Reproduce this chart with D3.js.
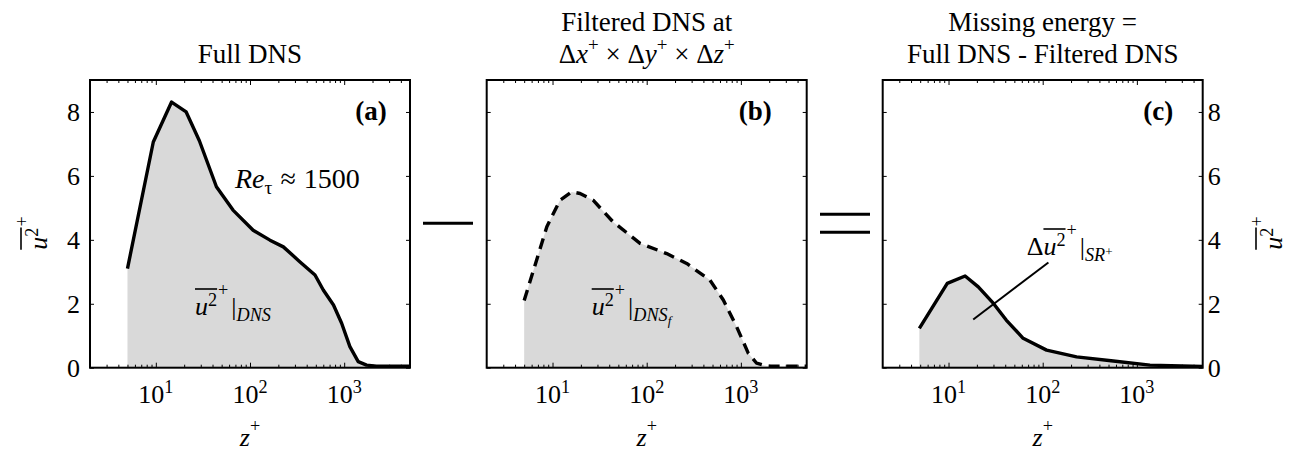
<!DOCTYPE html>
<html>
<head>
<meta charset="utf-8">
<script src="https://cdn.jsdelivr.net/npm/d3@7"></script>
<style>
  body { margin: 0; background: #fff; }
  svg text { font-family: "Liberation Serif", "Times New Roman", Times, "DejaVu Serif", "Noto Serif", serif; fill: #000; }
</style>
</head>
<body>
<svg id="chart" width="1291" height="452"></svg>
<script>
// values: z+ and mean square u+ profiles
var zFull = [5, 9.4, 14.7, 21, 29, 44, 66, 108, 163, 226, 340, 490, 600, 770, 940, 1150, 1410, 1730, 2200, 5000];
var uFull = [3.1, 7.06, 8.31, 8.0, 7.1, 5.66, 4.93, 4.3, 3.99, 3.78, 3.31, 2.9, 2.43, 1.96, 1.39, 0.66, 0.19, 0.08, 0.05, 0.05];

var zFilt = [5, 8.7, 12, 16, 19.6, 27, 44, 85, 163, 266, 469, 651, 902, 1200, 1470, 1870, 5000];
var uFilt = [2.1, 4.41, 5.24, 5.5, 5.45, 5.24, 4.56, 3.89, 3.57, 3.26, 2.74, 2.12, 1.28, 0.45, 0.14, 0.05, 0.05];

var zMiss = [4.9, 9.7, 15, 20.7, 30, 41, 62, 110, 229, 562, 1377, 5000];
var uMiss = [1.23, 2.64, 2.87, 2.53, 2.01, 1.49, 0.92, 0.55, 0.34, 0.21, 0.08, 0.04];

// pointer line for the label in (c)
var leaderZ = [18.3, 115];
var leaderU = [1.51, 3.29];

var zDomain = [2, 5000];
var uDomain = [0, 9];
var yTicks = [0, 2, 4, 6, 8];
var decades = [10, 100, 1000];
var decadeLabels = ['1', '2', '3'];

var svg = d3.select('#chart');
var plotW = 320,
  plotTop = 80,
  plotH = 287.7,
  fs = 26,
  grey = '#d9d9d9';

var x = d3.scaleLog().domain(zDomain).range([0, plotW]);
var y = d3.scaleLinear().domain(uDomain).range([plotH, 0]);

var minorTicks = [];
[1, 10, 100, 1000].forEach(function(p){
  for (var d = 2; d <= 9; d++) {
    var v = d * p;
    if (v > zDomain[0] && v < zDomain[1]) minorTicks.push(v);
  }
});

// draws a row of text pieces (italic, super/subscripts, overline) and returns the group
function rich(g, pieces, size, anchor){
  var grp = g.append('g');
  var pos = 0, oMin = null, oMax = null;
  pieces.forEach(function(p){
    var s = p.size ? p.size * size : ((p.sup || p.sub) ? size * 0.7 : size);
    var dy = p.sup ? -(p.rise || 0.38) * size : (p.sub ? (p.drop || 0.22) * size : 0);
    var t = grp.append('text')
      .attr('x', pos + (p.pre || 0))
      .attr('y', dy)
      .attr('font-size', s)
      .attr('font-style', p.it ? 'italic' : 'normal')
      .text(p.t);
    var w = t.node().getComputedTextLength() + (p.pre || 0);
    if (p.over) {
      if (oMin === null) oMin = pos;
      oMax = pos + w;
    }
    pos += w + (p.gap || 0);
  });
  if (oMin !== null) {
    grp.append('line')
      .attr('x1', oMin).attr('x2', oMax)
      .attr('y1', -1.0 * size).attr('y2', -1.0 * size)
      .attr('stroke', '#000').attr('stroke-width', 1.6);
  }
  var shift = anchor === 'middle' ? -pos / 2 : (anchor === 'end' ? -pos : 0);
  grp.attr('transform', 'translate(' + shift + ',0)');
  return grp;
}

function place(px, py, rot){
  return svg.append('g').attr('transform', 'translate(' + px + ',' + py + ')' + (rot ? ' rotate(' + rot + ')' : ''));
}

var u2 = [
  {t: 'u', it: true, over: true},
  {t: '2', sup: true, over: true, rise: 0.35},
  {t: '+', sup: true, rise: 0.75, pre: 1}
];

var panels = [
  {left: 90, z: zFull, u: uFull, dash: null, tag: '(a)', tagRight: 386.7, yLabels: 'left'},
  {left: 486.7, z: zFilt, u: uFilt, dash: '11,7', tag: '(b)', tagRight: 771.7, yLabels: null},
  {left: 882.7, z: zMiss, u: uMiss, dash: null, tag: '(c)', tagRight: 1173.3, yLabels: 'right'}
];

var tickStyle = function(sel){
  sel.select('.domain').remove();
  sel.selectAll('line').attr('stroke', '#000').attr('stroke-width', 1);
};

panels.forEach(function(p, i){
  var g = svg.append('g').attr('transform', 'translate(' + p.left + ',' + plotTop + ')');
  var clipId = 'clip' + i;
  g.append('clipPath').attr('id', clipId)
    .append('rect').attr('width', plotW).attr('height', plotH);

  var pts = p.z.map(function(d, k){ return [d, p.u[k]]; });
  var area = d3.area()
    .x(function(d){ return x(d[0]); })
    .y0(y(0))
    .y1(function(d){ return y(d[1]); });
  var line = d3.line()
    .x(function(d){ return x(d[0]); })
    .y(function(d){ return y(d[1]); });

  var plot = g.append('g').attr('clip-path', 'url(#' + clipId + ')');
  plot.append('path').attr('d', area(pts)).attr('fill', grey);
  plot.append('path').attr('d', line(pts))
    .attr('fill', 'none')
    .attr('stroke', '#000')
    .attr('stroke-width', 3.4)
    .attr('stroke-linejoin', 'round')
    .attr('stroke-dasharray', p.dash);

  // ticks pointing inward on every side
  g.append('g').attr('transform', 'translate(0,' + plotH + ')')
    .call(d3.axisBottom(x).tickValues(minorTicks).tickSize(-3).tickFormat(''))
    .call(tickStyle);
  g.append('g')
    .call(d3.axisTop(x).tickValues(minorTicks).tickSize(-3).tickFormat(''))
    .call(tickStyle);
  g.append('g').attr('transform', 'translate(0,' + plotH + ')')
    .call(d3.axisBottom(x).tickValues(decades).tickSize(-5).tickFormat(''))
    .call(tickStyle);
  g.append('g')
    .call(d3.axisTop(x).tickValues(decades).tickSize(-5).tickFormat(''))
    .call(tickStyle);
  g.append('g')
    .call(d3.axisLeft(y).tickValues(yTicks).tickSize(-4).tickFormat(''))
    .call(tickStyle);
  g.append('g').attr('transform', 'translate(' + plotW + ',0)')
    .call(d3.axisRight(y).tickValues(yTicks).tickSize(-4).tickFormat(''))
    .call(tickStyle);

  // decade labels
  decades.forEach(function(d, k){
    var t = g.append('text')
      .attr('x', x(d)).attr('y', plotH + 35.5)
      .attr('text-anchor', 'middle')
      .attr('font-size', fs);
    t.append('tspan').text('10');
    t.append('tspan').attr('font-size', fs * 0.7).attr('dy', -0.4 * fs).text(decadeLabels[k]);
  });

  if (p.yLabels) {
    yTicks.forEach(function(v){
      g.append('text')
        .attr('x', p.yLabels === 'left' ? -10 : plotW + 5)
        .attr('y', y(v))
        .attr('dy', '0.35em')
        .attr('text-anchor', p.yLabels === 'left' ? 'end' : 'start')
        .attr('font-size', fs)
        .text(v);
    });
  }

  g.append('text')
    .attr('x', p.tagRight - p.left).attr('y', 120 - plotTop)
    .attr('font-size', 27).attr('font-weight', 'bold')
    .attr('text-anchor', 'end')
    .text(p.tag);

  // z+ axis title
  rich(place(p.left + plotW / 2, 446, 0), [
    {t: 'z', it: true},
    {t: '+', sup: true, rise: 0.55}
  ], fs, 'middle');

  g.append('rect')
    .attr('width', plotW).attr('height', plotH)
    .attr('fill', 'none').attr('stroke', '#000').attr('stroke-width', 2);

  if (i === 2) {
    g.append('line')
      .attr('x1', x(leaderZ[0])).attr('y1', y(leaderU[0]))
      .attr('x2', x(leaderZ[1])).attr('y2', y(leaderU[1]))
      .attr('stroke', '#000').attr('stroke-width', 2);
  }
});

// titles
var tfs = 27;
svg.append('text').attr('x', 250).attr('y', 63).attr('text-anchor', 'middle').attr('font-size', tfs).text('Full DNS');
svg.append('text').attr('x', 646.7).attr('y', 31).attr('text-anchor', 'middle').attr('font-size', tfs).text('Filtered DNS at');

// second title line of (b) as one text with tspans
var t2 = svg.append('text').attr('x', 646.7).attr('y', 63).attr('text-anchor', 'middle').attr('font-size', tfs);
['x', 'y', 'z'].forEach(function(v, k){
  t2.append('tspan').attr('dy', k === 0 ? 0 : 0.45 * tfs).text((k === 0 ? '' : ' \u00d7 ') + '\u0394');
  t2.append('tspan').attr('font-style', 'italic').text(v);
  t2.append('tspan').attr('font-size', tfs * 0.7).attr('dy', -0.45 * tfs).text('+');
});

svg.append('text').attr('x', 1042.7).attr('y', 31).attr('text-anchor', 'middle').attr('font-size', tfs).text('Missing energy =');
svg.append('text').attr('x', 1042.7).attr('y', 63).attr('text-anchor', 'middle').attr('font-size', tfs).text('Full DNS - Filtered DNS');

// y axis titles (left of a, right of c)
rich(place(47, 233, -90), u2, fs, 'middle');
rich(place(1282, 233, -90), u2, fs, 'middle');

// in-plot annotations
rich(place(235, 188, 0), [
  {t: 'Re', it: true}, {t: '\u03c4', sub: true, gap: 8},
  {t: '\u2248', gap: 8}, {t: '1500'}
], 28);
rich(place(195, 315, 0), u2.concat([
  {t: '|', pre: 3}, {t: 'DNS', it: true, sub: true}
]), fs);
rich(place(591.7, 315, 0), u2.concat([
  {t: '|', pre: 3}, {t: 'DNS', it: true, sub: true}, {t: 'f', it: true, sub: true, drop: 0.4, size: 0.5}
]), fs);
rich(place(1026.7, 255, 0), [{t: '\u0394'}].concat(u2).concat([
  {t: '|', pre: 3}, {t: 'SR', it: true, sub: true}, {t: '+', sup: true, rise: -0.05, size: 0.5}
]), fs);

// operators between the panels
var ops = svg.append('g').attr('stroke', '#000').attr('stroke-width', 3);
ops.append('line').attr('x1', 423).attr('x2', 473).attr('y1', 223.3).attr('y2', 223.3);
ops.append('line').attr('x1', 820).attr('x2', 870).attr('y1', 214.3).attr('y2', 214.3);
ops.append('line').attr('x1', 820).attr('x2', 870).attr('y1', 232.3).attr('y2', 232.3);
</script>
</body>
</html>
